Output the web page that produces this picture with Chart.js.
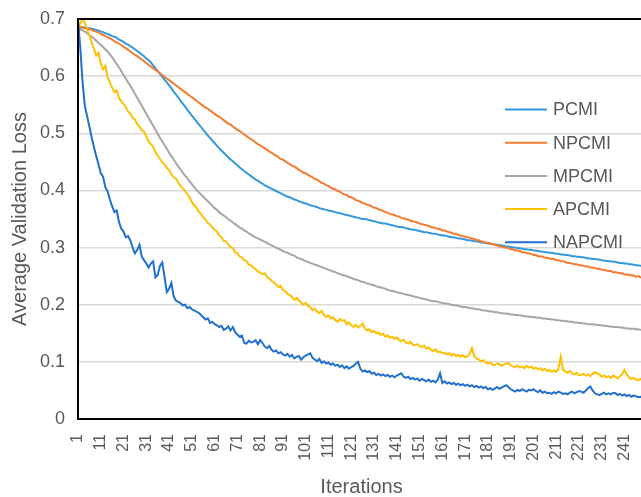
<!DOCTYPE html>
<html>
<head>
<meta charset="utf-8">
<script src="https://cdn.jsdelivr.net/npm/chart.js@4/dist/chart.umd.min.js"></script>
<style>
  html, body { margin: 0; padding: 0; background: #ffffff; overflow: hidden; }
  #wrap { width: 645px; height: 497px; }
</style>
</head>
<body>
<div id="wrap"><canvas id="chart" width="645" height="497"></canvas></div>
<script>
// Iteration numbers along the x axis
const iterations = [
  1,2,3,4,5,6,7,8,9,10,11,12,13,14,15,16,17,18,19,20,21,22,23,24,25,26,27,28,29,30,
  31,32,33,34,35,36,37,38,39,40,41,42,43,44,45,46,47,48,49,50,51,52,53,54,55,56,57,58,59,60,
  61,62,63,64,65,66,67,68,69,70,71,72,73,74,75,76,77,78,79,80,81,82,83,84,85,86,87,88,89,90,
  91,92,93,94,95,96,97,98,99,100,101,102,103,104,105,106,107,108,109,110,111,112,113,114,115,116,117,118,119,120,
  121,122,123,124,125,126,127,128,129,130,131,132,133,134,135,136,137,138,139,140,141,142,143,144,145,146,147,148,149,150,
  151,152,153,154,155,156,157,158,159,160,161,162,163,164,165,166,167,168,169,170,171,172,173,174,175,176,177,178,179,180,
  181,182,183,184,185,186,187,188,189,190,191,192,193,194,195,196,197,198,199,200,201,202,203,204,205,206,207,208,209,210,
  211,212,213,214,215,216,217,218,219,220,221,222,223,224,225,226,227,228,229,230,231,232,233,234,235,236,237,238,239,240,
  241,242,243,244,245,246,247,248,249,250
];

// Iterations that carry a visible tick label
const shownTicks = ['1','11','21','31','41','51','61','71','81','91','101','111','121','131','141','151','161','171','181','191','201','211','221','231','241'];

// Average validation loss per iteration
const pcmi = [
  .685,.685,.685,.685,.684,.684,.683,.682,.681,.680,
  .678,.677,.675,.674,.672,.670,.669,.667,.664,.662,
  .660,.657,.655,.652,.650,.647,.644,.641,.638,.635,
  .631,.628,.624,.619,.614,.609,.604,.599,.594,.589,
  .584,.579,.573,.568,.563,.557,.552,.547,.541,.536,
  .531,.526,.521,.516,.511,.506,.501,.496,.492,.487,
  .483,.478,.474,.470,.466,.462,.458,.454,.451,.447,
  .444,.440,.437,.434,.431,.428,.425,.422,.419,.417,
  .414,.412,.409,.407,.405,.403,.401,.399,.397,.395,
  .393,.391,.389,.388,.386,.384,.383,.381,.380,.378,
  .377,.376,.374,.373,.372,.371,.369,.368,.367,.366,
  .365,.364,.363,.362,.361,.360,.359,.358,.357,.356,
  .355,.354,.353,.352,.351,.350,.350,.349,.348,.347,
  .346,.345,.344,.343,.342,.342,.341,.340,.339,.338,
  .337,.336,.336,.335,.334,.333,.332,.331,.331,.330,
  .329,.328,.327,.327,.326,.325,.324,.324,.323,.322,
  .321,.321,.320,.319,.318,.318,.317,.316,.316,.315,
  .314,.313,.313,.312,.311,.311,.310,.309,.309,.308,
  .307,.307,.306,.305,.305,.304,.304,.303,.302,.302,
  .301,.300,.300,.299,.299,.298,.297,.297,.296,.296,
  .295,.295,.294,.293,.293,.292,.292,.291,.291,.290,
  .289,.289,.288,.288,.287,.287,.286,.285,.285,.284,
  .284,.283,.283,.282,.281,.281,.280,.280,.279,.279,
  .278,.277,.277,.276,.276,.275,.275,.274,.273,.273,
  .272,.272,.271,.271,.270,.269,.269,.268,.268,.267
];

const npcmi = [
  .686,.686,.685,.684,.683,.682,.681,.679,.678,.676,
  .674,.672,.670,.668,.666,.664,.661,.659,.657,.654,
  .651,.649,.646,.643,.640,.637,.635,.632,.629,.626,
  .623,.620,.617,.614,.611,.608,.605,.602,.599,.596,
  .593,.590,.587,.584,.581,.578,.575,.572,.569,.566,
  .563,.560,.557,.554,.551,.548,.545,.543,.540,.537,
  .534,.531,.529,.526,.523,.520,.517,.515,.512,.509,
  .506,.504,.501,.498,.495,.492,.490,.487,.484,.481,
  .479,.476,.474,.471,.468,.466,.463,.461,.458,.455,
  .454,.451,.448,.446,.443,.442,.439,.436,.434,.431,
  .430,.427,.425,.423,.420,.419,.416,.413,.412,.409,
  .408,.405,.403,.402,.399,.398,.395,.393,.392,.389,
  .388,.386,.383,.382,.380,.378,.377,.375,.374,.372,
  .370,.369,.367,.366,.364,.362,.361,.359,.358,.357,
  .355,.354,.352,.351,.350,.349,.347,.346,.345,.344,
  .342,.341,.340,.339,.338,.336,.335,.334,.333,.332,
  .330,.330,.328,.327,.326,.324,.324,.322,.321,.320,
  .319,.318,.317,.316,.315,.313,.313,.311,.310,.309,
  .308,.307,.306,.305,.304,.302,.302,.300,.300,.299,
  .297,.297,.295,.295,.294,.292,.292,.290,.290,.289,
  .287,.287,.285,.285,.284,.282,.282,.281,.280,.280,
  .278,.278,.276,.276,.275,.273,.273,.272,.271,.271,
  .269,.269,.268,.267,.267,.265,.265,.264,.263,.263,
  .261,.261,.260,.259,.259,.257,.257,.256,.255,.255,
  .253,.253,.252,.251,.251,.249,.250,.248,.247,.247
];

const mpcmi = [
  .683,.682,.680,.678,.675,.672,.669,.666,.662,.658,
  .655,.651,.647,.643,.638,.633,.627,.621,.615,.609,
  .602,.596,.589,.583,.576,.569,.562,.555,.548,.541,
  .534,.527,.520,.513,.506,.499,.492,.486,.479,.473,
  .466,.460,.454,.448,.442,.437,.431,.426,.421,.416,
  .411,.406,.401,.397,.393,.389,.385,.381,.377,.373,
  .369,.366,.362,.359,.356,.353,.350,.347,.344,.341,
  .338,.335,.333,.330,.328,.325,.323,.320,.318,.316,
  .314,.312,.310,.308,.306,.304,.302,.300,.298,.296,
  .294,.292,.291,.289,.287,.286,.283,.281,.280,.278,
  .276,.275,.273,.272,.270,.269,.267,.266,.264,.263,
  .261,.260,.258,.257,.255,.254,.252,.251,.250,.248,
  .247,.245,.244,.243,.241,.240,.239,.237,.236,.235,
  .234,.232,.231,.230,.229,.228,.226,.225,.224,.223,
  .222,.221,.220,.219,.218,.217,.216,.215,.214,.213,
  .212,.211,.210,.209,.208,.207,.206,.206,.205,.204,
  .203,.202,.202,.201,.200,.199,.199,.198,.197,.196,
  .196,.195,.194,.194,.193,.192,.192,.191,.190,.190,
  .189,.188,.188,.187,.187,.186,.185,.185,.184,.184,
  .183,.183,.182,.182,.181,.181,.180,.180,.179,.179,
  .178,.178,.177,.177,.176,.176,.175,.175,.174,.174,
  .173,.173,.172,.172,.171,.171,.170,.170,.169,.169,
  .168,.168,.167,.167,.166,.166,.166,.165,.165,.164,
  .164,.163,.163,.162,.162,.161,.161,.161,.160,.160,
  .159,.159,.158,.158,.158,.157,.157,.156,.156,.155
];

const apcmi = [
  .684,.692,.700,.694,.682,.671,.659,.648,.636,.641,
  .622,.612,.618,.598,.589,.580,.572,.575,.562,.556,
  .551,.546,.538,.534,.527,.524,.516,.512,.505,.503,
  .494,.486,.481,.476,.467,.461,.455,.449,.446,.439,
  .436,.428,.423,.421,.414,.408,.404,.399,.394,.387,
  .380,.374,.370,.363,.359,.353,.349,.343,.340,.335,
  .331,.328,.321,.318,.312,.311,.305,.301,.299,.292,
  .290,.284,.283,.278,.276,.270,.269,.265,.262,.258,
  .256,.253,.255,.248,.246,.242,.239,.236,.231,.233,
  .226,.224,.219,.217,.213,.209,.212,.207,.204,.200,
  .203,.198,.196,.190,.193,.188,.185,.189,.182,.179,
  .181,.176,.178,.173,.170,.175,.172,.173,.166,.169,
  .164,.161,.165,.160,.163,.167,.158,.155,.157,.152,
  .154,.150,.151,.147,.149,.144,.146,.142,.144,.140,
  .143,.138,.136,.139,.134,.132,.135,.130,.129,.131,
  .127,.126,.128,.123,.125,.121,.119,.122,.117,.118,
  .115,.116,.113,.115,.111,.114,.110,.112,.109,.112,
  .108,.110,.114,.124,.110,.106,.104,.101,.103,.099,
  .097,.099,.095,.094,.097,.096,.093,.095,.097,.098,
  .094,.092,.091,.094,.090,.092,.089,.093,.090,.092,
  .088,.090,.087,.089,.085,.088,.084,.086,.083,.085,
  .082,.088,.109,.086,.083,.081,.084,.080,.078,.081,
  .077,.077,.079,.076,.078,.075,.079,.082,.080,.078,
  .074,.076,.073,.075,.072,.076,.074,.071,.075,.079,
  .086,.078,.073,.070,.072,.069,.068,.070,.067,.068
];

const napcmi = [
  .698,.650,.590,.548,.530,.512,.493,.476,.460,.446,
  .430,.424,.406,.398,.384,.372,.362,.365,.345,.333,
  .328,.318,.320,.312,.300,.290,.296,.305,.284,.278,
  .272,.265,.272,.276,.248,.252,.268,.274,.249,.222,
  .228,.238,.215,.207,.205,.203,.199,.200,.194,.196,
  .192,.190,.188,.186,.182,.178,.174,.176,.168,.170,
  .166,.164,.161,.163,.156,.158,.162,.155,.161,.152,
  .148,.144,.146,.133,.132,.137,.134,.135,.138,.131,
  .138,.133,.127,.124,.128,.121,.118,.120,.115,.117,
  .113,.111,.114,.109,.112,.106,.109,.110,.104,.108,
  .111,.113,.115,.107,.104,.101,.105,.098,.101,.097,
  .099,.095,.097,.093,.095,.091,.094,.089,.092,.088,
  .091,.093,.097,.100,.088,.083,.085,.082,.084,.079,
  .081,.077,.079,.076,.078,.075,.077,.074,.076,.073,
  .076,.078,.080,.074,.072,.074,.070,.072,.069,.071,
  .067,.070,.068,.066,.069,.065,.067,.064,.069,.080,
  .063,.066,.062,.064,.061,.063,.060,.062,.059,.061,
  .058,.060,.057,.059,.056,.058,.055,.057,.054,.056,
  .052,.054,.051,.053,.056,.053,.055,.057,.059,.056,
  .052,.050,.048,.051,.049,.052,.050,.048,.051,.050,
  .052,.049,.047,.050,.046,.048,.045,.046,.044,.047,
  .045,.048,.046,.044,.045,.043,.046,.048,.045,.047,
  .049,.048,.046,.050,.054,.057,.050,.045,.043,.042,
  .044,.046,.043,.045,.043,.046,.045,.042,.044,.041,
  .043,.040,.042,.039,.041,.040,.038,.039,.037,.039
];

const seriesNames = ['PCMI', 'NPCMI', 'MPCMI', 'APCMI', 'NAPCMI'];
const seriesValues = [pcmi, npcmi, mpcmi, apcmi, napcmi];
const seriesColors = ['#3399DD', '#F47C30', '#A6A6A6', '#FFC000', '#2170CF'];

const FONT = '"Liberation Sans", Arial, Helvetica, sans-serif';
const TEXT = '#595959';

// Black frame around the plot plus a legend drawn inside the plot area
const frameAndLegend = {
  id: 'frameAndLegend',
  afterDatasetsDraw(chart) {
    const { ctx, chartArea: a } = chart;
    ctx.save();
    ctx.strokeStyle = '#000000';
    ctx.lineWidth = 2;
    ctx.strokeRect(a.left, a.top, a.right - a.left, a.bottom - a.top);

    ctx.font = '18px ' + FONT;
    ctx.textAlign = 'left';
    ctx.textBaseline = 'middle';
    chart.data.datasets.forEach((ds, i) => {
      const y = a.top + 90.5 + i * 33.2;
      ctx.strokeStyle = ds.borderColor;
      ctx.lineWidth = 2;
      ctx.beginPath();
      ctx.moveTo(a.left + 427, y);
      ctx.lineTo(a.left + 469, y);
      ctx.stroke();
      ctx.fillStyle = TEXT;
      ctx.fillText(ds.label, a.left + 475, y + 1);
    });
    ctx.restore();
  }
};

Chart.defaults.font.family = FONT;

new Chart(document.getElementById('chart'), {
  type: 'line',
  data: {
    labels: iterations,
    datasets: seriesNames.map((name, i) => ({
      label: name,
      data: seriesValues[i],
      borderColor: seriesColors[i],
      backgroundColor: seriesColors[i],
      borderWidth: 2,
      pointRadius: 0,
      tension: 0,
      fill: false,
      order: seriesNames.length - i
    }))
  },
  options: {
    responsive: false,
    animation: false,
    layout: { padding: { top: 19, left: 0, right: 0, bottom: 0 } },
    plugins: {
      legend: { display: false },
      tooltip: { enabled: false }
    },
    scales: {
      x: {
        type: 'category',
        grid: { display: false, drawTicks: false },
        border: { display: false },
        ticks: {
          autoSkip: false,
          minRotation: 90,
          maxRotation: 90,
          padding: 15,
          color: TEXT,
          font: { size: 16 },
          callback(value) {
            const lbl = String(this.getLabelForValue(value));
            return shownTicks.includes(lbl) ? lbl : '';
          }
        },
        title: {
          display: true,
          text: 'Iterations',
          color: TEXT,
          font: { size: 20, lineHeight: 1 },
          padding: { top: 0, bottom: 0 }
        },
        afterFit(scale) {
          scale.height = 78;
          scale.paddingLeft = 0;
          scale.paddingRight = 0;
        }
      },
      y: {
        min: 0,
        max: 0.7,
        grid: { color: '#D9D9D9', lineWidth: 1.5, drawTicks: false },
        border: { display: false },
        ticks: {
          stepSize: 0.1,
          padding: 13,
          color: TEXT,
          font: { size: 18 },
          callback: v => (v === 0 ? '0' : v.toFixed(1))
        },
        title: {
          display: true,
          text: 'Average Validation Loss',
          color: TEXT,
          font: { size: 20, lineHeight: 1.2 },
          padding: { top: 8, bottom: 0 }
        },
        afterFit(scale) {
          scale.width = 78;
          scale.paddingTop = 0;
          scale.paddingBottom = 0;
        }
      }
    }
  },
  plugins: [frameAndLegend]
});
</script>
</body>
</html>
